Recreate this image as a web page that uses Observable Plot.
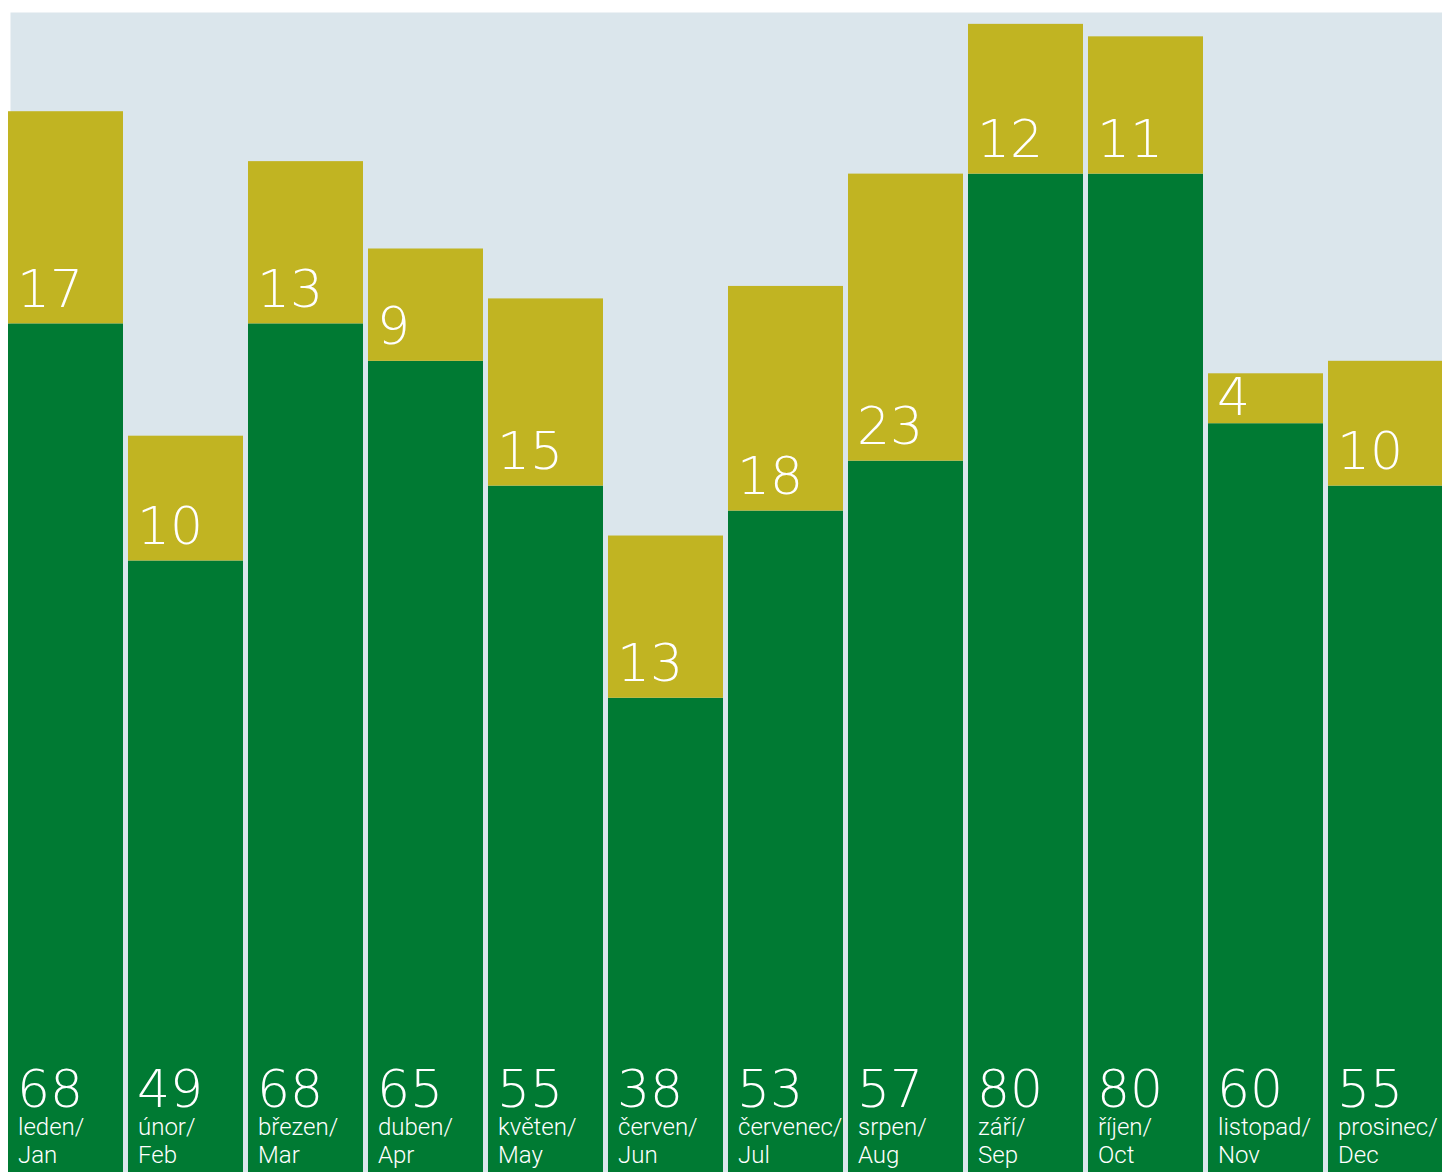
<!DOCTYPE html>
<html><head><meta charset="utf-8">
<script src="https://cdn.jsdelivr.net/npm/d3@7"></script>
<script src="https://cdn.jsdelivr.net/npm/@observablehq/plot@0.6"></script>
<style>html,body{margin:0;padding:0;background:#fff;overflow:hidden}</style>
</head><body><div id="chart"></div>
<script>
const monthsCz = ["leden","únor","březen","duben","květen","červen","červenec","srpen","září","říjen","listopad","prosinec"];
const monthsEn = ["Jan","Feb","Mar","Apr","May","Jun","Jul","Aug","Sep","Oct","Nov","Dec"];
const baseValues = [68,49,68,65,55,38,53,57,80,80,60,55];
const topValues = [17,10,13,9,15,13,18,23,12,11,4,10];
const seriesNames = ["base","top"];

const BG = "#dbe6ec", GREEN = "#007a33", OLIVE = "#c1b422";
const NUM_FONT = "'DejaVu Sans', sans-serif";
const LBL_FONT = "Roboto, 'DejaVu Sans Condensed', sans-serif";

const rows = [
  ...monthsCz.map((m, i) => ({month: m, en: monthsEn[i], series: seriesNames[0], value: baseValues[i], base: 0})),
  ...monthsCz.map((m, i) => ({month: m, en: monthsEn[i], series: seriesNames[1], value: topValues[i], base: baseValues[i]}))
];
const baseRows = rows.filter(d => d.series === seriesNames[0]);
const topRows = rows.filter(d => d.series === seriesNames[1]);

const numStyle = {fill: "white", fontSize: 52, fontFamily: NUM_FONT, fontWeight: 200, textAnchor: "start", lineAnchor: "bottom"};

const chart = Plot.plot({
  width: 1442,
  height: 1172,
  marginTop: 12,
  marginLeft: 10,
  marginRight: 0,
  marginBottom: 0,
  x: {domain: monthsCz, range: [8, 1443], paddingInner: 5/120, paddingOuter: 0, axis: null},
  y: {domain: [0, 92.95], axis: null},
  color: {domain: seriesNames, range: [GREEN, OLIVE]},
  marks: [
    Plot.frame({fill: BG, stroke: "none"}),
    Plot.barY(rows, {x: "month", y: "value", fill: "series"}),
    Plot.text(topRows.filter(d => d.value >= 5), {x: "month", y: "base", text: d => String(d.value), dx: -49, dy: -17, ...numStyle}),
    Plot.text(topRows.filter(d => d.value < 5), {x: "month", y: d => d.base + d.value, text: d => String(d.value), dx: -49, dy: 41, ...numStyle}),
    Plot.text(baseRows, {x: "month", y: 0, text: d => String(d.value), dx: -49, dy: -66, ...numStyle}),
    Plot.text(baseRows, {x: "month", y: 0, text: d => d.month + "/\n" + d.en, dx: -48, dy: -10, fill: "white", fontSize: 24, fontWeight: 300, lineHeight: 1.16, fontFamily: LBL_FONT, textAnchor: "start", lineAnchor: "bottom"})
  ]
});
document.getElementById("chart").append(chart);
</script>
</body></html>
